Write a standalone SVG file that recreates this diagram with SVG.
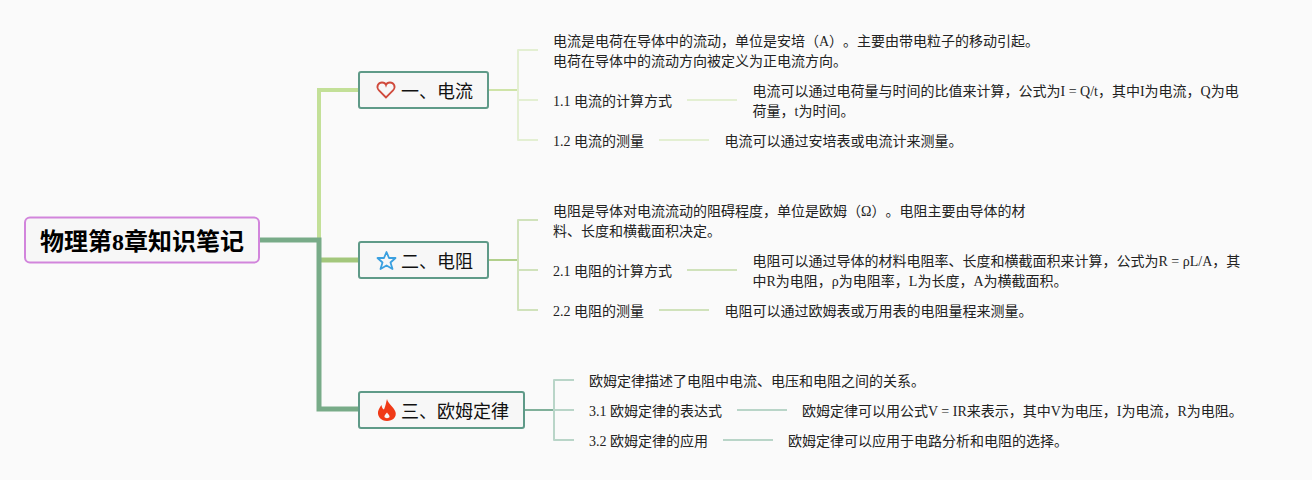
<svg xmlns="http://www.w3.org/2000/svg" width="1312" height="480" viewBox="0 0 1312 480">
<style>
text{font-family:"Liberation Serif","Noto Sans CJK SC",serif;fill:#222;text-spacing-trim:space-all;}
.s{font-size:14px;}
.m{font-size:18px;fill:#111;}
.r{font-size:24px;font-weight:bold;fill:#000;}
.box{fill:#f7f7f7;stroke:#5f9a88;stroke-width:2;}
.c{fill:none;stroke-linejoin:round;stroke-width:2;}
.g1{stroke:#e3efd2;}
.g1b{stroke:#cfe4a8;}
.g2{stroke:#d0e2bb;}
.g2b{stroke:#b2d08c;}
.g3{stroke:#b9d5c8;}
.g3b{stroke:#80b09a;}
</style>
<rect width="1312" height="480" fill="#fafafa"/>
<g id="connectors">
<path d="M319 240V90H359" fill="none" stroke="#c3e098" stroke-width="4"/>
<path d="M319 260H359" fill="none" stroke="#a3c77c" stroke-width="5"/>
<path d="M259 240H319V409H359" fill="none" stroke="#78ab88" stroke-width="5"/>
<path class="c g1b" d="M488 90H518"/>
<path class="c g1" d="M538 50H518V140H538M518 100H538M687 100H737M659 140H709"/>
<path class="c g2b" d="M488 260H518"/>
<path class="c g2" d="M538 220H518V310H538M518 270H538M687 270H737M659 310H709"/>
<path class="c g3b" d="M524 410H554"/>
<path class="c g3" d="M574 380H554V440H574M554 410H574M737 410H787M723 440H773"/>
</g>
<g id="root"><rect x="25" y="217.500" width="234" height="45" rx="5" fill="#f7f7f7" stroke="#d285dc" stroke-width="2"/><text class="r" x="40" y="250">物理第8章知识笔记</text></g>
<g id="n1"><rect class="box" x="359" y="72" width="129" height="36" rx="2"/>
<path d="M386 97.500L379 90.500C375.500 86.500 378.500 82.500 382 82.500C384 82.500 385.500 83.500 386 85C386.500 83.500 388 82.500 390 82.500C393.500 82.500 396.500 86.500 393 90.500Z" fill="none" stroke="#d04a3c" stroke-width="1.800"/>
<text class="m" x="401" y="97.500">一、电流</text></g>
<g id="n1t"><text class="s" x="553" y="46">电流是电荷在导体中的流动，单位是安培（A）。主要由带电粒子的移动引起。</text><text class="s" x="553" y="66">电荷在导体中的流动方向被定义为正电流方向。</text></g>
<g id="n11"><text class="s" x="553" y="106">1.1 电流的计算方式</text></g>
<g id="n11t"><text class="s" x="752.500" y="96">电流可以通过电荷量与时间的比值来计算，公式为I = Q/t，其中I为电流，Q为电</text><text class="s" x="752.500" y="116">荷量，t为时间。</text></g>
<g id="n12"><text class="s" x="553" y="146">1.2 电流的测量</text></g>
<g id="n12t"><text class="s" x="724.500" y="146">电流可以通过安培表或电流计来测量。</text></g>
<g id="n2"><rect class="box" x="359" y="242" width="129" height="36" rx="2"/>
<path d="M386.500 252L389 258H395.500L390.500 262.500L392.500 269L386.500 265.500L380.500 269L382.500 262.500L377.500 258H384Z" fill="none" stroke="#3aa0e0" stroke-width="1.800" stroke-linejoin="round"/>
<text class="m" x="401" y="267.500">二、电阻</text></g>
<g id="n2t"><text class="s" x="553" y="216">电阻是导体对电流流动的阻碍程度，单位是欧姆（Ω）。电阻主要由导体的材</text><text class="s" x="553" y="236">料、长度和横截面积决定。</text></g>
<g id="n21"><text class="s" x="553" y="276">2.1 电阻的计算方式</text></g>
<g id="n21t"><text class="s" x="752.500" y="266">电阻可以通过导体的材料电阻率、长度和横截面积来计算，公式为R = ρL/A，其</text><text class="s" x="752.500" y="286">中R为电阻，ρ为电阻率，L为长度，A为横截面积。</text></g>
<g id="n22"><text class="s" x="553" y="316">2.2 电阻的测量</text></g>
<g id="n22t"><text class="s" x="724.500" y="316">电阻可以通过欧姆表或万用表的电阻量程来测量。</text></g>
<g id="n3"><rect class="box" x="359" y="392" width="165" height="36" rx="2"/>
<path d="M387 399C388 404 393.500 406.500 395.500 412C397 417 392.500 421 387 421C381 421 377.500 416.500 378 412C378.500 409 380 407 381.500 405C382 407.500 382.500 409 384 409.500C385.500 406 386 403 387 399ZM387 412.500C385.500 414.500 384 415.500 384.500 417C385 418.500 389 418.500 389.500 417C390 415.500 388 414 387 412.500Z" fill="#f03a17" fill-rule="evenodd"/>
<text class="m" x="401" y="417.500">三、欧姆定律</text></g>
<g id="n3t"><text class="s" x="589" y="386">欧姆定律描述了电阻中电流、电压和电阻之间的关系。</text></g>
<g id="n31"><text class="s" x="589" y="416">3.1 欧姆定律的表达式</text></g>
<g id="n31t"><text class="s" x="802" y="416">欧姆定律可以用公式V = IR来表示，其中V为电压，I为电流，R为电阻。</text></g>
<g id="n32"><text class="s" x="589" y="446">3.2 欧姆定律的应用</text></g>
<g id="n32t"><text class="s" x="788" y="446">欧姆定律可以应用于电路分析和电阻的选择。</text></g>
</svg>
